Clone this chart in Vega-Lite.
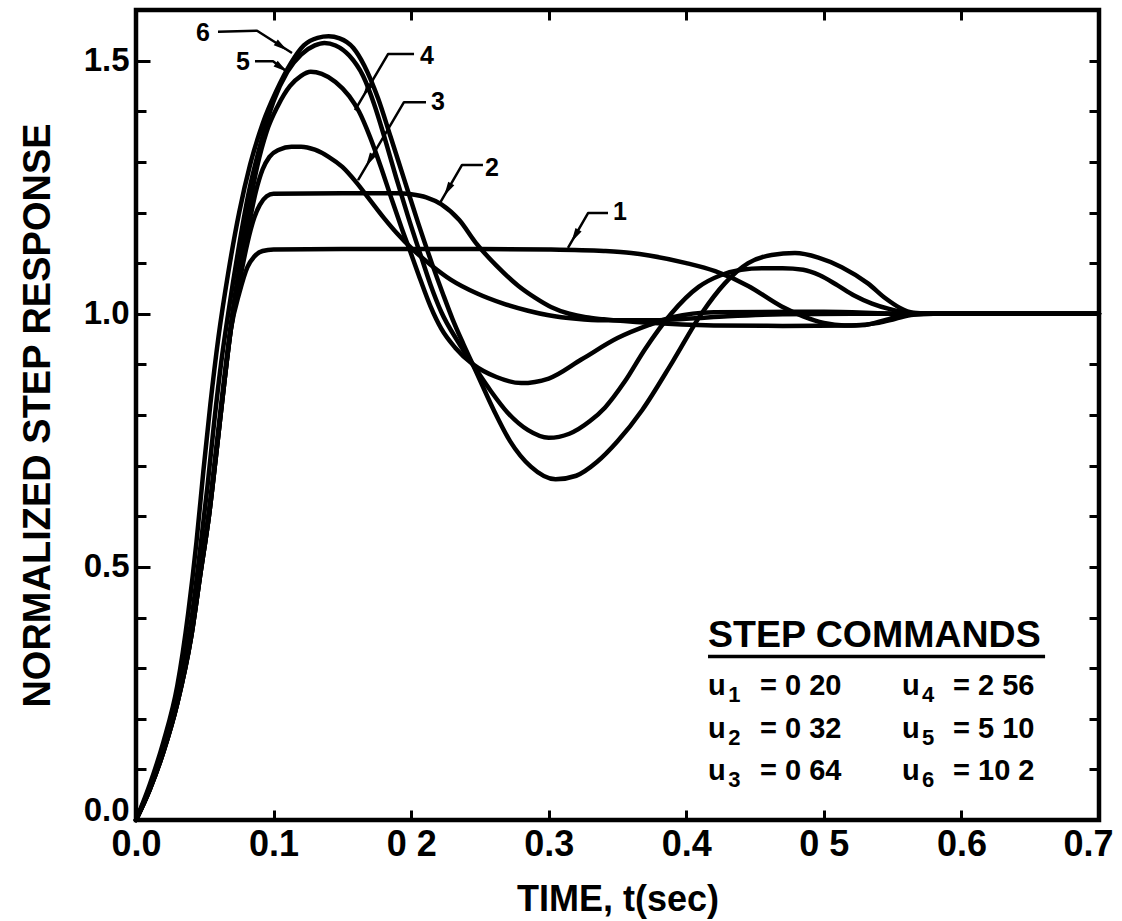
{
  "$schema": "https://vega.github.io/schema/vega-lite/v6.json",
  "width": 963,
  "height": 810,
  "autosize": {"type": "none"},
  "padding": {"left": 136, "top": 10, "right": 23, "bottom": 101},
  "background": "white",
  "config": {
    "view": {"stroke": "black", "strokeWidth": 4.5},
    "axis": {
      "domain": false,
      "grid": false,
      "tickColor": "black",
      "tickWidth": 3,
      "labelColor": "black",
      "titleColor": "black",
      "labelFont": "Liberation Sans",
      "titleFont": "Liberation Sans",
      "labelFontWeight": "bold",
      "titleFontWeight": "bold",
      "labelFlush": false,
      "labelOverlap": false
    },
    "text": {"font": "Liberation Sans", "fontWeight": "bold", "fill": "black"}
  },
  "datasets": {
    "curves": [
      {"c":"1","t":0,"v":0},{"c":"1","t":0.01,"v":0.06},{"c":"1","t":0.02,"v":0.135},{"c":"1","t":0.03,"v":0.23},{"c":"1","t":0.04,"v":0.36},{"c":"1","t":0.047,"v":0.49},{"c":"1","t":0.053,"v":0.6},{"c":"1","t":0.059,"v":0.74},{"c":"1","t":0.064,"v":0.86},{"c":"1","t":0.069,"v":0.97},{"c":"1","t":0.075,"v":1.04},{"c":"1","t":0.081,"v":1.092},{"c":"1","t":0.086,"v":1.113},{"c":"1","t":0.092,"v":1.124},{"c":"1","t":0.1,"v":1.127},{"c":"1","t":0.15,"v":1.128},{"c":"1","t":0.2,"v":1.128},{"c":"1","t":0.25,"v":1.128},{"c":"1","t":0.3,"v":1.127},{"c":"1","t":0.34,"v":1.124},{"c":"1","t":0.36,"v":1.12},{"c":"1","t":0.373,"v":1.115},{"c":"1","t":0.4,"v":1.1},{"c":"1","t":0.421,"v":1.084},{"c":"1","t":0.445,"v":1.055},{"c":"1","t":0.469,"v":1.015},{"c":"1","t":0.485,"v":0.995},{"c":"1","t":0.5,"v":0.982},{"c":"1","t":0.515,"v":0.977},{"c":"1","t":0.53,"v":0.978},{"c":"1","t":0.545,"v":0.988},{"c":"1","t":0.56,"v":0.999},{"c":"1","t":0.58,"v":1.0},{"c":"1","t":0.7,"v":1.0},
      {"c":"2","t":0,"v":0},{"c":"2","t":0.01,"v":0.06},{"c":"2","t":0.02,"v":0.135},{"c":"2","t":0.03,"v":0.23},{"c":"2","t":0.04,"v":0.36},{"c":"2","t":0.047,"v":0.49},{"c":"2","t":0.053,"v":0.6},{"c":"2","t":0.059,"v":0.74},{"c":"2","t":0.064,"v":0.86},{"c":"2","t":0.069,"v":0.97},{"c":"2","t":0.075,"v":1.06},{"c":"2","t":0.081,"v":1.14},{"c":"2","t":0.086,"v":1.19},{"c":"2","t":0.09,"v":1.215},{"c":"2","t":0.095,"v":1.232},{"c":"2","t":0.1,"v":1.237},{"c":"2","t":0.15,"v":1.238},{"c":"2","t":0.19,"v":1.238},{"c":"2","t":0.2,"v":1.236},{"c":"2","t":0.211,"v":1.23},{"c":"2","t":0.222,"v":1.216},{"c":"2","t":0.235,"v":1.185},{"c":"2","t":0.247,"v":1.14},{"c":"2","t":0.262,"v":1.095},{"c":"2","t":0.278,"v":1.055},{"c":"2","t":0.29,"v":1.032},{"c":"2","t":0.302,"v":1.013},{"c":"2","t":0.315,"v":1.0},{"c":"2","t":0.327,"v":0.993},{"c":"2","t":0.34,"v":0.989},{"c":"2","t":0.373,"v":0.982},{"c":"2","t":0.42,"v":0.977},{"c":"2","t":0.47,"v":0.976},{"c":"2","t":0.52,"v":0.977},{"c":"2","t":0.54,"v":0.982},{"c":"2","t":0.552,"v":0.99},{"c":"2","t":0.565,"v":0.998},{"c":"2","t":0.58,"v":1.0},{"c":"2","t":0.7,"v":1.0},
      {"c":"3","t":0,"v":0},{"c":"3","t":0.01,"v":0.06},{"c":"3","t":0.02,"v":0.135},{"c":"3","t":0.03,"v":0.23},{"c":"3","t":0.04,"v":0.36},{"c":"3","t":0.047,"v":0.49},{"c":"3","t":0.053,"v":0.6},{"c":"3","t":0.059,"v":0.74},{"c":"3","t":0.064,"v":0.86},{"c":"3","t":0.069,"v":0.97},{"c":"3","t":0.075,"v":1.07},{"c":"3","t":0.081,"v":1.16},{"c":"3","t":0.087,"v":1.24},{"c":"3","t":0.092,"v":1.285},{"c":"3","t":0.097,"v":1.31},{"c":"3","t":0.104,"v":1.324},{"c":"3","t":0.113,"v":1.33},{"c":"3","t":0.12,"v":1.33},{"c":"3","t":0.13,"v":1.324},{"c":"3","t":0.14,"v":1.31},{"c":"3","t":0.15,"v":1.29},{"c":"3","t":0.16,"v":1.26},{"c":"3","t":0.17,"v":1.225},{"c":"3","t":0.18,"v":1.19},{"c":"3","t":0.19,"v":1.158},{"c":"3","t":0.2,"v":1.13},{"c":"3","t":0.215,"v":1.095},{"c":"3","t":0.229,"v":1.067},{"c":"3","t":0.248,"v":1.04},{"c":"3","t":0.266,"v":1.021},{"c":"3","t":0.285,"v":1.006},{"c":"3","t":0.3,"v":0.997},{"c":"3","t":0.32,"v":0.99},{"c":"3","t":0.34,"v":0.987},{"c":"3","t":0.37,"v":0.987},{"c":"3","t":0.4,"v":0.99},{"c":"3","t":0.43,"v":0.995},{"c":"3","t":0.47,"v":0.999},{"c":"3","t":0.52,"v":1.0},{"c":"3","t":0.7,"v":1.0},
      {"c":"4","t":0,"v":0},{"c":"4","t":0.01,"v":0.062},{"c":"4","t":0.02,"v":0.138},{"c":"4","t":0.03,"v":0.235},{"c":"4","t":0.04,"v":0.365},{"c":"4","t":0.047,"v":0.495},{"c":"4","t":0.053,"v":0.61},{"c":"4","t":0.059,"v":0.75},{"c":"4","t":0.064,"v":0.87},{"c":"4","t":0.069,"v":0.98},{"c":"4","t":0.075,"v":1.09},{"c":"4","t":0.081,"v":1.19},{"c":"4","t":0.088,"v":1.29},{"c":"4","t":0.095,"v":1.36},{"c":"4","t":0.103,"v":1.41},{"c":"4","t":0.112,"v":1.45},{"c":"4","t":0.12,"v":1.47},{"c":"4","t":0.127,"v":1.478},{"c":"4","t":0.135,"v":1.474},{"c":"4","t":0.145,"v":1.458},{"c":"4","t":0.155,"v":1.43},{"c":"4","t":0.162,"v":1.4},{"c":"4","t":0.17,"v":1.35},{"c":"4","t":0.178,"v":1.29},{"c":"4","t":0.186,"v":1.225},{"c":"4","t":0.193,"v":1.17},{"c":"4","t":0.2,"v":1.118},{"c":"4","t":0.207,"v":1.065},{"c":"4","t":0.214,"v":1.015},{"c":"4","t":0.222,"v":0.97},{"c":"4","t":0.232,"v":0.933},{"c":"4","t":0.245,"v":0.9},{"c":"4","t":0.262,"v":0.875},{"c":"4","t":0.28,"v":0.863},{"c":"4","t":0.3,"v":0.872},{"c":"4","t":0.324,"v":0.91},{"c":"4","t":0.35,"v":0.952},{"c":"4","t":0.373,"v":0.978},{"c":"4","t":0.39,"v":0.993},{"c":"4","t":0.42,"v":1.003},{"c":"4","t":0.5,"v":1.004},{"c":"4","t":0.56,"v":1.0},{"c":"4","t":0.7,"v":1.0},
      {"c":"5","t":0,"v":0},{"c":"5","t":0.01,"v":0.065},{"c":"5","t":0.02,"v":0.145},{"c":"5","t":0.03,"v":0.245},{"c":"5","t":0.04,"v":0.39},{"c":"5","t":0.046,"v":0.52},{"c":"5","t":0.052,"v":0.66},{"c":"5","t":0.057,"v":0.79},{"c":"5","t":0.062,"v":0.905},{"c":"5","t":0.067,"v":1.0},{"c":"5","t":0.074,"v":1.12},{"c":"5","t":0.082,"v":1.24},{"c":"5","t":0.09,"v":1.33},{"c":"5","t":0.1,"v":1.42},{"c":"5","t":0.11,"v":1.478},{"c":"5","t":0.12,"v":1.512},{"c":"5","t":0.13,"v":1.53},{"c":"5","t":0.137,"v":1.535},{"c":"5","t":0.145,"v":1.53},{"c":"5","t":0.155,"v":1.51},{"c":"5","t":0.165,"v":1.47},{"c":"5","t":0.173,"v":1.415},{"c":"5","t":0.181,"v":1.345},{"c":"5","t":0.189,"v":1.27},{"c":"5","t":0.198,"v":1.19},{"c":"5","t":0.207,"v":1.115},{"c":"5","t":0.214,"v":1.058},{"c":"5","t":0.222,"v":1.003},{"c":"5","t":0.234,"v":0.945},{"c":"5","t":0.246,"v":0.895},{"c":"5","t":0.258,"v":0.847},{"c":"5","t":0.27,"v":0.805},{"c":"5","t":0.285,"v":0.77},{"c":"5","t":0.3,"v":0.755},{"c":"5","t":0.315,"v":0.763},{"c":"5","t":0.33,"v":0.788},{"c":"5","t":0.341,"v":0.815},{"c":"5","t":0.355,"v":0.865},{"c":"5","t":0.37,"v":0.93},{"c":"5","t":0.389,"v":1.0},{"c":"5","t":0.409,"v":1.053},{"c":"5","t":0.425,"v":1.076},{"c":"5","t":0.44,"v":1.087},{"c":"5","t":0.455,"v":1.09},{"c":"5","t":0.47,"v":1.09},{"c":"5","t":0.485,"v":1.087},{"c":"5","t":0.497,"v":1.076},{"c":"5","t":0.51,"v":1.056},{"c":"5","t":0.522,"v":1.036},{"c":"5","t":0.535,"v":1.02},{"c":"5","t":0.548,"v":1.009},{"c":"5","t":0.56,"v":1.002},{"c":"5","t":0.58,"v":1.0},{"c":"5","t":0.7,"v":1.0},
      {"c":"6","t":0,"v":0},{"c":"6","t":0.01,"v":0.07},{"c":"6","t":0.02,"v":0.155},{"c":"6","t":0.03,"v":0.265},{"c":"6","t":0.038,"v":0.41},{"c":"6","t":0.044,"v":0.55},{"c":"6","t":0.049,"v":0.69},{"c":"6","t":0.054,"v":0.82},{"c":"6","t":0.06,"v":0.955},{"c":"6","t":0.067,"v":1.08},{"c":"6","t":0.075,"v":1.2},{"c":"6","t":0.083,"v":1.295},{"c":"6","t":0.092,"v":1.375},{"c":"6","t":0.102,"v":1.44},{"c":"6","t":0.113,"v":1.497},{"c":"6","t":0.122,"v":1.53},{"c":"6","t":0.132,"v":1.545},{"c":"6","t":0.14,"v":1.548},{"c":"6","t":0.148,"v":1.544},{"c":"6","t":0.158,"v":1.525},{"c":"6","t":0.166,"v":1.49},{"c":"6","t":0.176,"v":1.425},{"c":"6","t":0.185,"v":1.35},{"c":"6","t":0.195,"v":1.265},{"c":"6","t":0.205,"v":1.18},{"c":"6","t":0.215,"v":1.1},{"c":"6","t":0.223,"v":1.04},{"c":"6","t":0.23,"v":0.99},{"c":"6","t":0.238,"v":0.94},{"c":"6","t":0.247,"v":0.887},{"c":"6","t":0.26,"v":0.81},{"c":"6","t":0.272,"v":0.748},{"c":"6","t":0.287,"v":0.698},{"c":"6","t":0.305,"v":0.673},{"c":"6","t":0.32,"v":0.68},{"c":"6","t":0.335,"v":0.707},{"c":"6","t":0.35,"v":0.748},{"c":"6","t":0.368,"v":0.81},{"c":"6","t":0.39,"v":0.905},{"c":"6","t":0.411,"v":1.0},{"c":"6","t":0.428,"v":1.06},{"c":"6","t":0.445,"v":1.1},{"c":"6","t":0.462,"v":1.116},{"c":"6","t":0.479,"v":1.12},{"c":"6","t":0.496,"v":1.111},{"c":"6","t":0.513,"v":1.092},{"c":"6","t":0.532,"v":1.06},{"c":"6","t":0.545,"v":1.03},{"c":"6","t":0.555,"v":1.012},{"c":"6","t":0.565,"v":1.002},{"c":"6","t":0.58,"v":1.0},{"c":"6","t":0.7,"v":1.0}
    ],
    "pointers": [
      {"id":"6","t":0.0596,"v":1.557},{"id":"6","t":0.088,"v":1.559},{"id":"6","t":0.1134,"v":1.515},
      {"id":"5","t":0.0865,"v":1.499},{"id":"5","t":0.0996,"v":1.499},{"id":"5","t":0.1098,"v":1.478},
      {"id":"4","t":0.2021,"v":1.513},{"id":"4","t":0.1832,"v":1.513},{"id":"4","t":0.1592,"v":1.402},
      {"id":"3","t":0.2108,"v":1.418},{"id":"3","t":0.1948,"v":1.418},{"id":"3","t":0.1614,"v":1.264},
      {"id":"2","t":0.2522,"v":1.294},{"id":"2","t":0.237,"v":1.294},{"id":"2","t":0.221,"v":1.219},
      {"id":"1","t":0.3431,"v":1.199},{"id":"1","t":0.3286,"v":1.199},{"id":"1","t":0.314,"v":1.13}
    ],
    "pointerLabels": [
      {"id":"6","t":0.0487,"v":1.555},
      {"id":"5","t":0.0778,"v":1.497},
      {"id":"4","t":0.2115,"v":1.509},
      {"id":"3","t":0.2195,"v":1.419},
      {"id":"2","t":0.2588,"v":1.288},
      {"id":"1","t":0.3518,"v":1.201}
    ],
    "arrowsLeft": [
      {"id":"4","t":0.1676,"v":1.441},
      {"id":"3","t":0.1697,"v":1.303},
      {"id":"2","t":0.2266,"v":1.245},
      {"id":"1","t":0.3191,"v":1.154}
    ],
    "arrowsRight": [
      {"id":"6","t":0.1058,"v":1.528},
      {"id":"5","t":0.1057,"v":1.486}
    ],
    "legendTitle": [{"t":0.4158,"v":0.3417,"s":"STEP COMMANDS"}],
    "legendRule": [{"t":0.4158,"t2":0.6608,"v":0.323}],
    "legendMain": [
      {"t":0.4158,"v":0.2469,"s":"u"},{"t":0.4536,"v":0.2469,"s":"= 0 20"},
      {"t":0.4158,"v":0.162,"s":"u"},{"t":0.4536,"v":0.162,"s":"= 0 32"},
      {"t":0.4158,"v":0.079,"s":"u"},{"t":0.4536,"v":0.079,"s":"= 0 64"},
      {"t":0.5568,"v":0.2469,"s":"u"},{"t":0.5939,"v":0.2469,"s":"= 2 56"},
      {"t":0.5568,"v":0.162,"s":"u"},{"t":0.5939,"v":0.162,"s":"= 5 10"},
      {"t":0.5568,"v":0.079,"s":"u"},{"t":0.5939,"v":0.079,"s":"= 10 2"}
    ],
    "legendSub": [
      {"t":0.4305,"v":0.2469,"s":"1"},
      {"t":0.4305,"v":0.162,"s":"2"},
      {"t":0.4305,"v":0.079,"s":"3"},
      {"t":0.5714,"v":0.2469,"s":"4"},
      {"t":0.5714,"v":0.162,"s":"5"},
      {"t":0.5714,"v":0.079,"s":"6"}
    ]
  },
  "resolve": {"axis": {"x": "independent", "y": "independent"}},
  "layer": [
    {
      "data": {"name": "curves"},
      "mark": {"type": "line", "stroke": "black", "strokeWidth": 4.5, "interpolate": "monotone", "strokeCap": "round", "strokeJoin": "round"},
      "encoding": {
        "x": {"field": "t", "type": "quantitative", "scale": {"domain": [0, 0.7], "nice": false, "zero": false},
          "axis": {"orient": "bottom", "values": [0, 0.1, 0.2, 0.3, 0.4, 0.5, 0.6, 0.7],
            "labelExpr": "datum.value == 0.2 || datum.value == 0.5 ? replace(format(datum.value, '.1f'), '.', ' ') : format(datum.value, '.1f')",
            "labelOffset": {"condition": {"test": "datum.value == 0.7", "value": -11}, "value": 0},
            "tickSize": -10, "labelPadding": 17, "labelFontSize": 36,
            "title": "TIME, t(sec)", "titleFontSize": 36, "titlePadding": 20}},
        "y": {"field": "v", "type": "quantitative", "scale": {"domain": [0, 1.6], "nice": false, "zero": false},
          "axis": {"orient": "left", "values": [0, 0.1, 0.2, 0.3, 0.4, 0.5, 0.6, 0.7, 0.8, 0.9, 1, 1.1, 1.2, 1.3, 1.4, 1.5],
            "labelExpr": "datum.value == 0 || datum.value == 0.5 || datum.value == 1 || datum.value == 1.5 ? format(datum.value, '.1f') : ''",
            "labelBaseline": {"condition": {"test": "datum.value == 0", "value": "alphabetic"}, "value": "middle"},
            "tickSize": {"condition": {"test": "datum.value == 0 || datum.value == 0.5 || datum.value == 1 || datum.value == 1.5", "value": -14}, "value": -10},
            "labelPadding": 21, "labelFontSize": 33,
            "title": "NORMALIZED STEP RESPONSE", "titleFontSize": 38, "titlePadding": 26}},
        "detail": {"field": "c", "type": "nominal"}
      }
    },
    {
      "data": {"name": "pointers"},
      "mark": {"type": "line", "stroke": "black", "strokeWidth": 2.5, "strokeJoin": "round"},
      "encoding": {
        "x": {"field": "t", "type": "quantitative", "scale": {"domain": [0, 0.7], "nice": false, "zero": false}, "axis": null},
        "y": {"field": "v", "type": "quantitative", "scale": {"domain": [0, 1.6], "nice": false, "zero": false}, "axis": null},
        "detail": {"field": "id", "type": "nominal"}
      }
    },
    {
      "data": {"name": "arrowsLeft"},
      "mark": {"type": "point", "shape": "M0,-1L0.5,1L-0.5,1Z", "filled": true, "fill": "black", "stroke": null, "size": 200, "angle": 210, "opacity": 1},
      "encoding": {
        "x": {"field": "t", "type": "quantitative", "scale": {"domain": [0, 0.7], "nice": false, "zero": false}, "axis": null},
        "y": {"field": "v", "type": "quantitative", "scale": {"domain": [0, 1.6], "nice": false, "zero": false}, "axis": null}
      }
    },
    {
      "data": {"name": "arrowsRight"},
      "mark": {"type": "point", "shape": "M0,-1L0.5,1L-0.5,1Z", "filled": true, "fill": "black", "stroke": null, "size": 200, "angle": 125, "opacity": 1},
      "encoding": {
        "x": {"field": "t", "type": "quantitative", "scale": {"domain": [0, 0.7], "nice": false, "zero": false}, "axis": null},
        "y": {"field": "v", "type": "quantitative", "scale": {"domain": [0, 1.6], "nice": false, "zero": false}, "axis": null}
      }
    },
    {
      "data": {"name": "pointerLabels"},
      "mark": {"type": "text", "fontSize": 25, "align": "center", "baseline": "middle"},
      "encoding": {
        "x": {"field": "t", "type": "quantitative", "scale": {"domain": [0, 0.7], "nice": false, "zero": false}, "axis": null},
        "y": {"field": "v", "type": "quantitative", "scale": {"domain": [0, 1.6], "nice": false, "zero": false}, "axis": null},
        "text": {"field": "id", "type": "nominal"}
      }
    },
    {
      "data": {"name": "legendTitle"},
      "mark": {"type": "text", "fontSize": 37.5, "align": "left", "baseline": "alphabetic"},
      "encoding": {
        "x": {"field": "t", "type": "quantitative", "scale": {"domain": [0, 0.7], "nice": false, "zero": false},
          "axis": {"orient": "top", "values": [0.1, 0.2, 0.3, 0.4, 0.5, 0.6], "labels": false, "tickSize": -10, "title": null}},
        "y": {"field": "v", "type": "quantitative", "scale": {"domain": [0, 1.6], "nice": false, "zero": false},
          "axis": {"orient": "right", "values": [0.1, 0.2, 0.3, 0.4, 0.5, 0.6, 0.7, 0.8, 0.9, 1, 1.1, 1.2, 1.3, 1.4, 1.5], "labels": false, "tickSize": -10, "title": null}},
        "text": {"field": "s", "type": "nominal"}
      }
    },
    {
      "data": {"name": "legendRule"},
      "mark": {"type": "rule", "stroke": "black", "strokeWidth": 3.5},
      "encoding": {
        "x": {"field": "t", "type": "quantitative", "scale": {"domain": [0, 0.7], "nice": false, "zero": false}, "axis": null},
        "x2": {"field": "t2"},
        "y": {"field": "v", "type": "quantitative", "scale": {"domain": [0, 1.6], "nice": false, "zero": false}, "axis": null}
      }
    },
    {
      "data": {"name": "legendMain"},
      "mark": {"type": "text", "fontSize": 29, "align": "left", "baseline": "alphabetic"},
      "encoding": {
        "x": {"field": "t", "type": "quantitative", "scale": {"domain": [0, 0.7], "nice": false, "zero": false}, "axis": null},
        "y": {"field": "v", "type": "quantitative", "scale": {"domain": [0, 1.6], "nice": false, "zero": false}, "axis": null},
        "text": {"field": "s", "type": "nominal"}
      }
    },
    {
      "data": {"name": "legendSub"},
      "mark": {"type": "text", "fontSize": 22, "align": "left", "baseline": "alphabetic", "dy": 7},
      "encoding": {
        "x": {"field": "t", "type": "quantitative", "scale": {"domain": [0, 0.7], "nice": false, "zero": false}, "axis": null},
        "y": {"field": "v", "type": "quantitative", "scale": {"domain": [0, 1.6], "nice": false, "zero": false}, "axis": null},
        "text": {"field": "s", "type": "nominal"}
      }
    }
  ]
}
